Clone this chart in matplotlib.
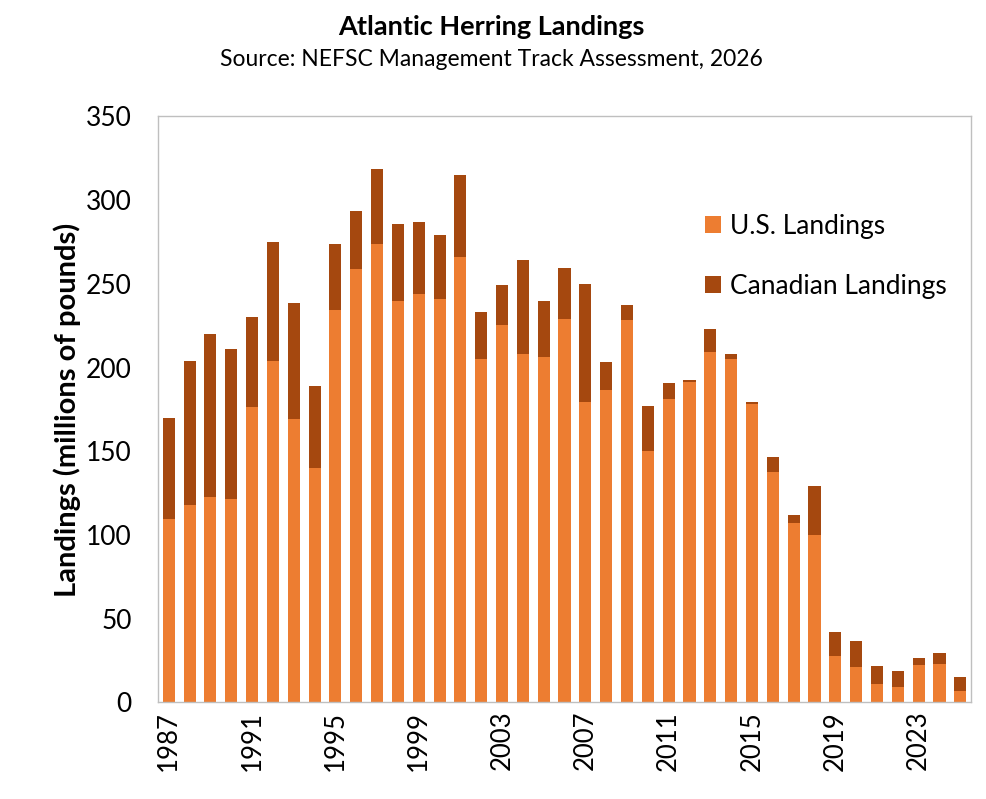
import matplotlib.pyplot as plt
import numpy as np

plt.rcParams["font.family"] = ["Lato", "DejaVu Sans"]

years = list(range(1987, 2026))
us = [109.8, 118.0, 122.8, 121.5, 176.6, 204.1, 169.5, 140.2, 234.3, 258.7,
      273.6, 239.5, 244.1, 240.7, 265.8, 205.4, 225.6, 208.4, 206.6, 229.2,
      179.6, 186.4, 228.3, 150.5, 181.4, 191.5, 209.5, 205.0, 178.0, 137.8,
      107.1, 100.1, 27.7, 21.3, 11.0, 9.2, 22.3, 22.9, 7.0]
total = [170.0, 203.8, 220.3, 211.1, 230.4, 275.2, 238.8, 189.2, 273.8, 293.5,
         318.7, 286.0, 287.1, 279.3, 315.2, 233.3, 249.6, 264.2, 240.0, 259.6,
         249.8, 203.4, 237.5, 177.1, 190.8, 192.6, 223.3, 208.4, 179.3, 146.5,
         111.9, 129.2, 42.0, 36.6, 21.7, 18.7, 26.5, 29.5, 15.1]
canada = [t - u for t, u in zip(total, us)]

us_color = "#ED7D31"
ca_color = "#A5480F"

fig = plt.figure(figsize=(9.86, 7.99), dpi=100)
ax = fig.add_axes([0.1606, 0.1208, 0.8239, 0.7334])

ax.bar(years, us, width=0.58, color=us_color, label="U.S. Landings")
ax.bar(years, canada, width=0.58, bottom=us, color=ca_color, label="Canadian Landings")

ax.set_xlim(1986.5, 2025.5)
ax.set_ylim(0, 350)
ax.set_yticks(range(0, 351, 50))
ax.set_xticks(range(1987, 2024, 4))
ax.tick_params(axis="x", labelrotation=90, labelsize=18.5, length=0, pad=6)
ax.tick_params(axis="y", labelsize=19, length=0, pad=19)
for s in ax.spines.values():
    s.set_color("#BFBFBF")
    s.set_linewidth(1)

ax.set_ylabel("Landings (millions of pounds)", fontsize=21, fontweight="bold", labelpad=4)

fig.text(0.498, 0.966, "Atlantic Herring Landings", ha="center", va="center",
         fontsize=19.5, fontweight="bold")
fig.text(0.498, 0.926, "Source: NEFSC Management Track Assessment, 2026", ha="center",
         va="center", fontsize=16.5)

ax.legend(loc="upper left", bbox_to_anchor=(0.673, 0.834), frameon=False,
          fontsize=19, handlelength=0.6, handleheight=0.6, handletextpad=0.35,
          labelspacing=1.34, borderpad=0, borderaxespad=0)

fig.savefig("out.png", dpi=100)
